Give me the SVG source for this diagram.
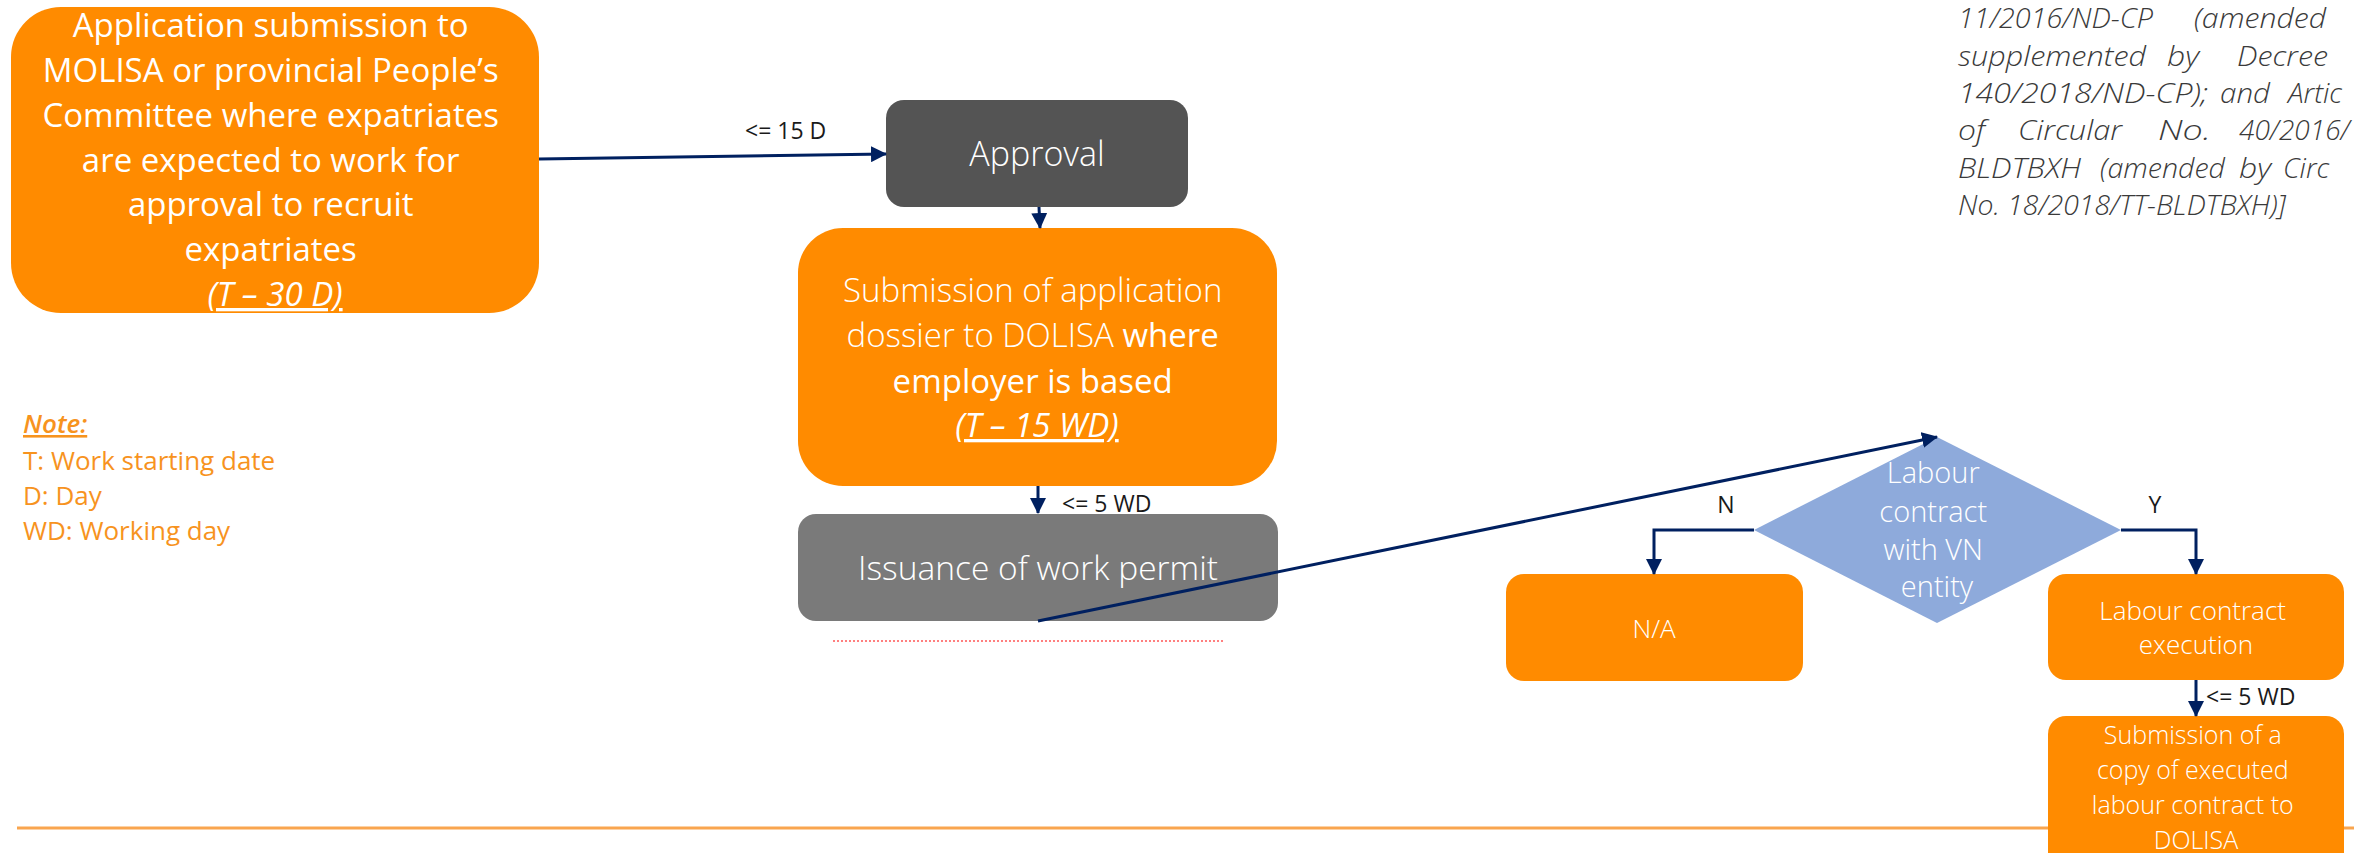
<svg xmlns="http://www.w3.org/2000/svg" width="2354" height="853" viewBox="0 0 2354 853">
<style>
.orange{fill:#ff8b00}
.t{font-family:"Open Sans","Noto Sans",sans-serif;fill:#ffffff;text-anchor:middle}
.lt{font-weight:300}
.lbl{font-family:"Open Sans","Noto Sans",sans-serif;fill:#1a1a1a;font-size:23px}
.conn{stroke:#002060;stroke-width:3;fill:none}
.note{font-family:"Open Sans","Noto Sans",sans-serif;fill:#f7931e;font-size:26px}
.legal{font-family:"Open Sans","Noto Sans",sans-serif;fill:#3a3a3a;font-size:28px;font-style:italic;font-weight:300}
</style>
<defs>
<marker id="arr" markerUnits="userSpaceOnUse" markerWidth="16" markerHeight="16" viewBox="0 0 16 16" refX="15" refY="8" orient="auto">
<path d="M0,0 L16,8 L0,16 Z" fill="#002060"/>
</marker>
</defs>
<line x1="17" y1="828" x2="2354" y2="828" stroke="#f9a54f" stroke-width="3"/>
<g id="legal">
<text class="legal" y="28"><tspan x="1958" textLength="195" lengthAdjust="spacingAndGlyphs">11/2016/ND-CP</tspan><tspan x="2194" textLength="132" lengthAdjust="spacingAndGlyphs">(amended</tspan></text>
<text class="legal" y="66"><tspan x="1958" textLength="188" lengthAdjust="spacingAndGlyphs">supplemented</tspan><tspan x="2167" textLength="32" lengthAdjust="spacingAndGlyphs">by</tspan><tspan x="2237" textLength="91" lengthAdjust="spacingAndGlyphs">Decree</tspan></text>
<text class="legal" y="103"><tspan x="1958" textLength="250" lengthAdjust="spacingAndGlyphs">140/2018/ND-CP);</tspan><tspan x="2220" textLength="50" lengthAdjust="spacingAndGlyphs">and</tspan><tspan x="2288">Artic</tspan></text>
<text class="legal" y="140"><tspan x="1958" textLength="27" lengthAdjust="spacingAndGlyphs">of</tspan><tspan x="2018" textLength="104" lengthAdjust="spacingAndGlyphs">Circular</tspan><tspan x="2158" textLength="53" lengthAdjust="spacingAndGlyphs">No.</tspan><tspan x="2239">40/2016/</tspan></text>
<text class="legal" y="178"><tspan x="1958" textLength="123" lengthAdjust="spacingAndGlyphs">BLDTBXH</tspan><tspan x="2100" textLength="125" lengthAdjust="spacingAndGlyphs">(amended</tspan><tspan x="2239" textLength="32" lengthAdjust="spacingAndGlyphs">by</tspan><tspan x="2283">Circ</tspan></text>
<text class="legal" x="1958" y="215" textLength="328" lengthAdjust="spacingAndGlyphs">No. 18/2018/TT-BLDTBXH)]</text>
</g>
<line x1="833" y1="641" x2="1224" y2="641" stroke="#ff0000" stroke-width="1" stroke-dasharray="2,2"/>
<g id="app-submission">
<rect class="orange" x="11" y="7" width="528" height="306" rx="50"/>
<text class="t" font-size="33">
<tspan x="275" y="37">Application submission to</tspan>
<tspan x="275" y="82">MOLISA or provincial People’s</tspan>
<tspan x="275" y="127">Committee where expatriates</tspan>
<tspan x="275" y="172">are expected to work for</tspan>
<tspan x="275" y="216">approval to recruit</tspan>
<tspan x="275" y="261">expatriates</tspan>
<tspan x="275" y="306" font-style="italic" text-decoration="underline">(T – 30 D)</tspan>
</text>
</g>
<g id="approval">
<rect x="886" y="100" width="302" height="107" rx="18" fill="#545454"/>
<text class="t lt" x="1037" y="166" font-size="34">Approval</text>
</g>
<g id="dossier-submission">
<rect class="orange" x="798" y="228" width="479" height="258" rx="45"/>
<text class="t" font-size="33">
<tspan x="1037" y="302" font-weight="300">Submission of application</tspan>
<tspan x="1037" y="347"><tspan font-weight="300">dossier to DOLISA </tspan>where</tspan>
<tspan x="1037" y="393">employer is based</tspan>
<tspan x="1037" y="437" font-style="italic" text-decoration="underline">(T – 15 WD)</tspan>
</text>
</g>
<g id="work-permit">
<rect x="798" y="514" width="480" height="107" rx="18" fill="#7a7a7a"/>
<text class="t lt" x="1038" y="580" font-size="33.5">Issuance of work permit</text>
</g>
<g id="decision">
<polygon points="1937,437 2121,530 1937,623 1754,530" fill="#8eaadb"/>
<text class="t lt" font-size="29">
<tspan x="1937" y="483">Labour</tspan>
<tspan x="1937" y="522">contract</tspan>
<tspan x="1937" y="560">with VN</tspan>
<tspan x="1937" y="597">entity</tspan>
</text>
</g>
<g id="na">
<rect class="orange" x="1506" y="574" width="297" height="107" rx="18"/>
<text class="t lt" x="1654" y="638" font-size="26">N/A</text>
</g>
<g id="contract-execution">
<rect class="orange" x="2048" y="574" width="296" height="106" rx="18"/>
<text class="t lt" font-size="26">
<tspan x="2196" y="620">Labour contract</tspan>
<tspan x="2196" y="654">execution</tspan>
</text>
</g>
<g id="copy-submission">
<rect class="orange" x="2048" y="716" width="296" height="160" rx="18"/>
<text class="t lt" font-size="25">
<tspan x="2196" y="744">Submission of a</tspan>
<tspan x="2196" y="779">copy of executed</tspan>
<tspan x="2196" y="814">labour contract to</tspan>
<tspan x="2196" y="849">DOLISA</tspan>
</text>
</g>
<g id="note">
<text class="note" x="23" y="433" font-style="italic" text-decoration="underline" font-weight="600">Note:</text>
<text class="note" x="23" y="470">T: Work starting date</text>
<text class="note" x="23" y="505">D: Day</text>
<text class="note" x="23" y="540">WD: Working day</text>
</g>
<g id="connectors">
<line class="conn" x1="539" y1="159" x2="886" y2="154" marker-end="url(#arr)"/>
<text class="lbl" x="745" y="139">&lt;= 15 D</text>
<line class="conn" x1="1039" y1="207" x2="1040" y2="228" marker-end="url(#arr)"/>
<line class="conn" x1="1038" y1="486" x2="1038" y2="513" marker-end="url(#arr)"/>
<text class="lbl" x="1062" y="512">&lt;= 5 WD</text>
<line class="conn" x1="1038" y1="621" x2="1937" y2="437" marker-end="url(#arr)"/>
<polyline class="conn" points="1754,530 1654,530 1654,574" marker-end="url(#arr)"/>
<text class="lbl" x="1726" y="513" text-anchor="middle">N</text>
<polyline class="conn" points="2121,530 2196,530 2196,574" marker-end="url(#arr)"/>
<text class="lbl" x="2155" y="513" text-anchor="middle">Y</text>
<line class="conn" x1="2196" y1="680" x2="2196" y2="716" marker-end="url(#arr)"/>
<text class="lbl" x="2206" y="705">&lt;= 5 WD</text>
</g>
</svg>
